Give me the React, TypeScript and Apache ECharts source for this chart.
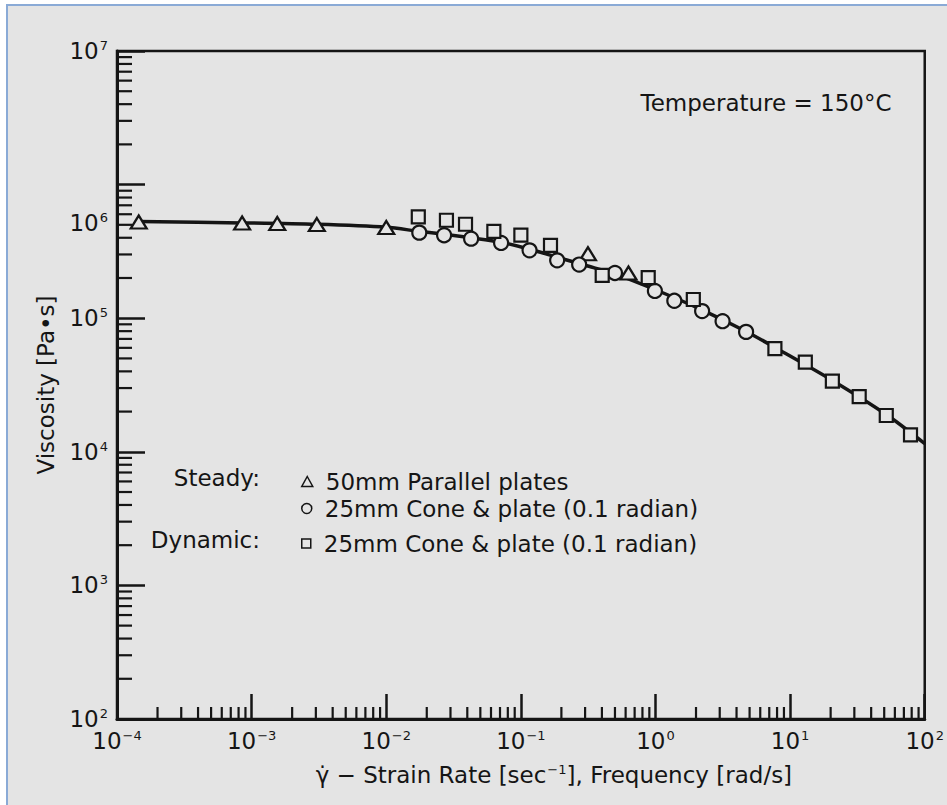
import React, { useEffect, useRef } from 'react';
import * as echarts from 'echarts';

const FONT = '"DejaVu Sans", "Liberation Sans", Arial, sans-serif';
const INK = '#151515';
const PAPER = '#e4e4e4';

// Axis extents
const X_MIN = 1e-4;
const X_MAX = 1e2;
const Y_MIN = 1e2;
const Y_MAX = 1e7;

// Steady shear, 50mm parallel plates (triangles)
const ppRate = [1.45e-4, 8.5e-4, 1.55e-3, 3.05e-3, 1.0e-2, 0.315, 0.63];
const ppVisc = [5.25e5, 5.16e5, 5.11e5, 5.02e5, 4.77e5, 3.04e5, 2.18e5];

// Steady shear, 25mm cone & plate (circles)
const cpRate = [0.0176, 0.0269, 0.0427, 0.0713, 0.116, 0.186, 0.271, 0.5, 0.99, 1.38, 2.22, 3.15, 4.71];
const cpVisc = [4.37e5, 4.18e5, 3.94e5, 3.66e5, 3.22e5, 2.71e5, 2.52e5, 2.18e5, 1.6e5, 1.35e5, 1.13e5, 9.5e4, 7.9e4];

// Dynamic, 25mm cone & plate (squares)
const dynFreq = [0.0173, 0.028, 0.0388, 0.063, 0.1, 0.166, 0.402, 0.883, 1.91, 7.71, 12.97, 20.6, 32.6, 51.8, 78.4];
const dynVisc = [5.73e5, 5.41e5, 5.05e5, 4.47e5, 4.18e5, 3.51e5, 2.09e5, 2.01e5, 1.38e5, 5.91e4, 4.69e4, 3.38e4, 2.59e4, 1.87e4, 1.34e4];

// Hand-drawn curve through the data
const fitRate = [1.45e-4, 8.5e-4, 3.05e-3, 1.0e-2, 0.0175, 0.027, 0.0427, 0.0713, 0.116, 0.186, 0.3, 0.51, 0.99, 2.19, 4.71, 7.71, 20.6, 51.8, 100];
const fitVisc = [5.3e5, 5.17e5, 5.04e5, 4.79e5, 4.47e5, 4.25e5, 4.0e5, 3.7e5, 3.28e5, 2.86e5, 2.49e5, 2.13e5, 1.64e5, 1.16e5, 7.96e4, 6.04e4, 3.42e4, 1.9e4, 1.15e4];

// Legend texts
const legendNames = ['pp', 'cp', 'dyn'];
const legendTexts: Record<string, string> = {
  pp: '50mm Parallel plates',
  cp: '25mm Cone & plate (0.1 radian)',
  dyn: '25mm Cone & plate (0.1 radian)',
};
const groupLabels = ['Steady:', 'Dynamic:'];

// Minor log tick multipliers
const minorMultipliers = [2, 3, 4, 5, 6, 7, 8, 9];
const xDecades = [-4, -3, -2, -1, 0, 1];
const yDecades = [2, 3, 4, 5, 6];

const xMinor: number[] = [];
xDecades.forEach((d) => minorMultipliers.forEach((m) => xMinor.push(m * Math.pow(10, d))));
const yMinor: number[] = [];
yDecades.forEach((d) => minorMultipliers.forEach((m) => yMinor.push(m * Math.pow(10, d))));

const zip = (a: number[], b: number[]) => a.map((v, i) => [v, b[i]]);

const expText = (v: number) => {
  const e = Math.round(Math.log10(v));
  return e < 0 ? '\u2212' + Math.abs(e) : String(e);
};

const baseTok = { fontSize: 23, fontFamily: FONT, color: INK };
const supTok = { fontSize: 13, fontFamily: FONT, color: INK, padding: [0, 0, 11, 1] };

export default function App() {
  const ref = useRef<HTMLDivElement>(null);

  useEffect(() => {
    if (!ref.current) return;
    const chart = echarts.init(ref.current, undefined, { renderer: 'svg' });

    const marker = {
      color: PAPER,
      borderColor: INK,
      borderWidth: 2.2,
      opacity: 1,
    };

    const option: any = {
      animation: false,
      backgroundColor: '#ffffff',
      textStyle: { fontFamily: FONT, color: INK },
      graphic: [
        {
          type: 'rect',
          z: -10,
          silent: true,
          shape: { x: 7, y: 5, width: 980, height: 840 },
          style: { fill: PAPER, stroke: '#8aaad6', lineWidth: 2 },
        },
        {
          type: 'text',
          x: 766,
          y: 103,
          silent: true,
          style: {
            text: 'Temperature = 150°C',
            fontSize: 23,
            fontFamily: FONT,
            fill: INK,
            align: 'center',
            verticalAlign: 'middle',
          },
        },
        {
          type: 'text',
          x: 260,
          y: 478,
          silent: true,
          style: {
            text: groupLabels[0],
            fontSize: 23,
            fontFamily: FONT,
            fill: INK,
            align: 'right',
            verticalAlign: 'middle',
          },
        },
        {
          type: 'text',
          x: 260,
          y: 540,
          silent: true,
          style: {
            text: groupLabels[1],
            fontSize: 23,
            fontFamily: FONT,
            fill: INK,
            align: 'right',
            verticalAlign: 'middle',
          },
        },
      ],
      legend: [0, 1, 2].map((i) => ({
        data: [legendNames[i]],
        left: 296,
        top: [478, 505, 540][i] - 13,
        itemWidth: [11, 10, 9][i],
        itemHeight: [10, 10, 9][i],
        selectedMode: false,
        formatter: (n: string) => legendTexts[n],
        itemStyle: { color: PAPER, borderColor: INK, borderWidth: 1.5, opacity: 1 },
        textStyle: { fontSize: 23, fontFamily: FONT, color: INK, padding: [0, 0, 0, 8] },
      })),
      grid: {
        left: 117,
        right: 17,
        top: 51,
        bottom: 86,
        show: true,
        borderColor: INK,
        borderWidth: 2.5,
        backgroundColor: 'transparent',
      },
      xAxis: {
        type: 'log',
        logBase: 10,
        min: X_MIN,
        max: X_MAX,
        position: 'bottom',
        name: '{t|\u03B3\u0307 \u2212 Strain Rate [sec}{s|\u22121}{t|], Frequency [rad/s]}',
        nameLocation: 'middle',
        nameGap: 44,
        nameTextStyle: {
          fontSize: 23,
          fontFamily: FONT,
          color: INK,
          padding: [0, 0, 0, 66],
          rich: {
            t: { fontSize: 23, fontFamily: FONT, color: INK },
            s: { fontSize: 13, fontFamily: FONT, color: INK, padding: [0, 0, 11, 1] },
          },
        },
        axisLine: { show: true, lineStyle: { color: INK, width: 3 } },
        axisTick: { show: true, inside: true, length: 25, lineStyle: { color: INK, width: 2.5 } },
        splitLine: { show: false },
        minorTick: { show: false },
        axisLabel: {
          margin: 10,
          formatter: (v: number) => `{b|10}{s|${expText(v)}}`,
          rich: { b: baseTok, s: supTok },
        },
      },
      yAxis: {
        type: 'log',
        logBase: 10,
        min: Y_MIN,
        max: Y_MAX,
        position: 'left',
        name: 'Viscosity [Pa•s]',
        nameLocation: 'middle',
        nameGap: 60,
        nameTextStyle: { fontSize: 23, fontFamily: FONT, color: INK },
        axisLine: { show: true, lineStyle: { color: INK, width: 3 } },
        axisTick: { show: true, inside: true, length: 28, lineStyle: { color: INK, width: 2.5 } },
        splitLine: { show: false },
        minorTick: { show: false },
        axisLabel: {
          margin: 9,
          formatter: (v: number) => {
            const e = Math.round(Math.log10(v));
            if (e === 6) return `{b6|10}{s6|${expText(v)}}`;
            return `{b|10}{s|${expText(v)}}`;
          },
          rich: {
            b: baseTok,
            s: supTok,
            b6: { ...baseTok, padding: [76, 0, 0, 0] },
            s6: { ...supTok, padding: [76, 0, 11, 1] },
          },
        },
      },
      series: [
        {
          type: 'custom',
          name: 'xMinorTicks',
          silent: true,
          z: 1,
          data: xMinor.map((v) => [v, Y_MIN]),
          renderItem: (_p: any, api: any) => {
            const pt = api.coord([api.value(0), api.value(1)]);
            return {
              type: 'line',
              shape: { x1: pt[0], y1: pt[1], x2: pt[0], y2: pt[1] - 12 },
              style: { stroke: INK, lineWidth: 2.2 },
            };
          },
        },
        {
          type: 'custom',
          name: 'yMinorTicks',
          silent: true,
          z: 1,
          data: yMinor.map((v) => [X_MIN, v]),
          renderItem: (_p: any, api: any) => {
            const pt = api.coord([api.value(0), api.value(1)]);
            return {
              type: 'line',
              shape: { x1: pt[0], y1: pt[1], x2: pt[0] + 15, y2: pt[1] },
              style: { stroke: INK, lineWidth: 2.2 },
            };
          },
        },
        {
          type: 'line',
          name: 'fit',
          data: zip(fitRate, fitVisc),
          showSymbol: false,
          smooth: 0.3,
          silent: true,
          z: 2,
          lineStyle: { color: INK, width: 3.5 },
        },
        {
          type: 'scatter',
          name: 'pp',
          data: zip(ppRate, ppVisc),
          symbol: 'triangle',
          symbolSize: [16, 13],
          itemStyle: marker,
          z: 3,
        },
        {
          type: 'scatter',
          name: 'cp',
          data: zip(cpRate, cpVisc),
          symbol: 'circle',
          symbolSize: 14,
          itemStyle: marker,
          z: 3,
        },
        {
          type: 'scatter',
          name: 'dyn',
          data: zip(dynFreq, dynVisc),
          symbol: 'rect',
          symbolSize: 13,
          itemStyle: marker,
          z: 3,
        },
      ],
    };

    chart.setOption(option);
    return () => chart.dispose();
  }, []);

  return (
    <div
      ref={ref}
      style={{ position: 'fixed', left: 0, top: 0, width: 947, height: 805 }}
    />
  );
}
